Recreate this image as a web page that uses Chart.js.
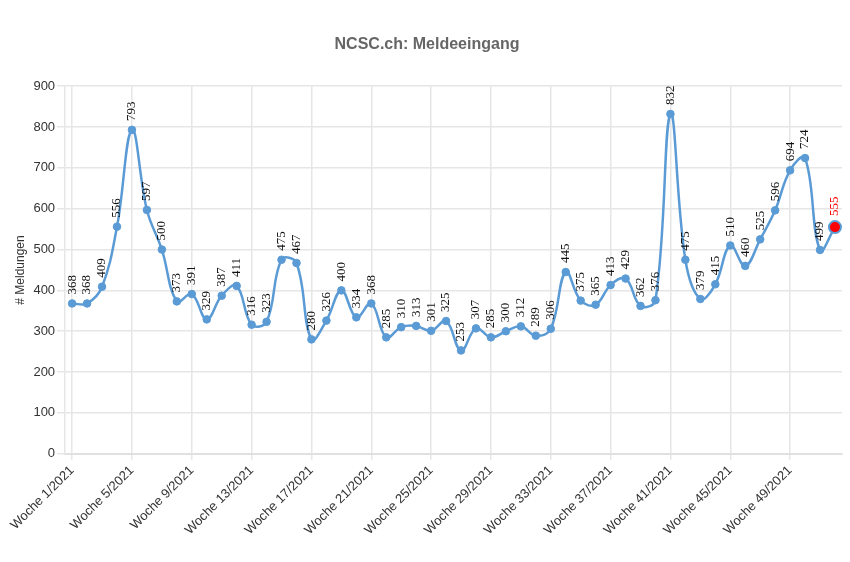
<!DOCTYPE html>
<html>
<head>
<meta charset="utf-8">
<script src="https://cdn.jsdelivr.net/npm/chart.js@4/dist/chart.umd.min.js"></script>
<style>
  html, body { margin: 0; padding: 0; background: #fff; }
  #wrap { width: 850px; height: 562px; }
</style>
</head>
<body>
<div id="wrap"><canvas id="c"></canvas></div>
<script>
// weeks 1..52 of 2021
const weeks = [];
for (let w = 1; w <= 52; w++) weeks.push('Woche ' + w + '/2021');

const meldungen = [
  368, 368, 409, 556, 793, 597, 500, 373, 391, 329,
  387, 411, 316, 323, 475, 467, 280, 326, 400, 334,
  368, 285, 310, 313, 301, 325, 253, 307, 285, 300,
  312, 289, 306, 445, 375, 365, 413, 429, 362, 376,
  832, 475, 379, 415, 510, 460, 525, 596, 694, 724,
  499, 555
];

const tickWeeks = [0, 4, 8, 12, 16, 20, 24, 28, 32, 36, 40, 44, 48];
const yTicks = [0, 100, 200, 300, 400, 500, 600, 700, 800, 900];

const blue = '#5b9bd5';
const last = meldungen.length - 1;

// rotated value labels above each point
const valueLabels = {
  id: 'valueLabels',
  afterDatasetsDraw(chart) {
    const ctx = chart.ctx;
    const meta = chart.getDatasetMeta(0);
    ctx.save();
    ctx.font = "13px 'Liberation Serif', 'Times New Roman', serif";
    ctx.textAlign = 'left';
    ctx.textBaseline = 'middle';
    meta.data.forEach((pt, i) => {
      ctx.save();
      ctx.translate(pt.x, pt.y - (i === last ? 11 : 9));
      ctx.rotate(-Math.PI / 2);
      ctx.fillStyle = i === last ? '#ff0000' : '#111';
      ctx.fillText(String(meldungen[i]), 0, 0);
      ctx.restore();
    });
    ctx.restore();
  }
};

new Chart(document.getElementById('c'), {
  type: 'line',
  data: {
    datasets: [{
      label: '# Meldungen',
      data: meldungen.map((v, i) => ({ x: i, y: v })),
      borderColor: blue,
      borderWidth: 2.5,
      tension: 0.4,
      fill: false,
      pointBackgroundColor: meldungen.map((v, i) => i === last ? '#ff0000' : blue),
      pointBorderColor: blue,
      pointBorderWidth: meldungen.map((v, i) => i === last ? 2 : 1),
      pointRadius: meldungen.map((v, i) => i === last ? 6 : 3.8)
    }]
  },
  options: {
    responsive: true,
    maintainAspectRatio: false,
    animation: false,
    layout: { padding: { top: 10, right: 5, left: 9, bottom: 21 } },
    plugins: {
      legend: { display: false },
      tooltip: { enabled: false },
      title: {
        display: true,
        text: 'NCSC.ch: Meldeeingang',
        color: '#666',
        font: { family: 'Arial, Liberation Sans, sans-serif', size: 16, weight: 'bold' },
        padding: { top: 25, bottom: 32 }
      }
    },
    scales: {
      x: {
        type: 'linear',
        min: -0.47,
        max: 51.47,
        afterBuildTicks(scale) {
          scale.ticks = tickWeeks.map(v => ({ value: v }));
        },
        ticks: {
          autoSkip: false,
          minRotation: 45,
          maxRotation: 45,
          color: '#333',
          font: { family: 'Arial, Liberation Sans, sans-serif', size: 13 },
          callback: v => weeks[v]
        },
        grid: { color: '#e6e6e6', lineWidth: 1.5, tickLength: 6 },
        border: { color: '#e0e0e0', width: 2 }
      },
      y: {
        min: 0,
        max: 900,
        afterBuildTicks(scale) {
          scale.ticks = yTicks.map(v => ({ value: v }));
        },
        title: {
          display: true,
          text: '# Meldungen',
          color: '#333',
          font: { family: 'Arial, Liberation Sans, sans-serif', size: 12 }
        },
        ticks: {
          color: '#333',
          font: { family: 'Arial, Liberation Sans, sans-serif', size: 13 },
          padding: 2
        },
        grid: { color: '#e6e6e6', lineWidth: 1.5, tickLength: 8 },
        border: { color: '#e6e6e6', width: 1.5 }
      }
    }
  },
  plugins: [valueLabels]
});
</script>
</body>
</html>
